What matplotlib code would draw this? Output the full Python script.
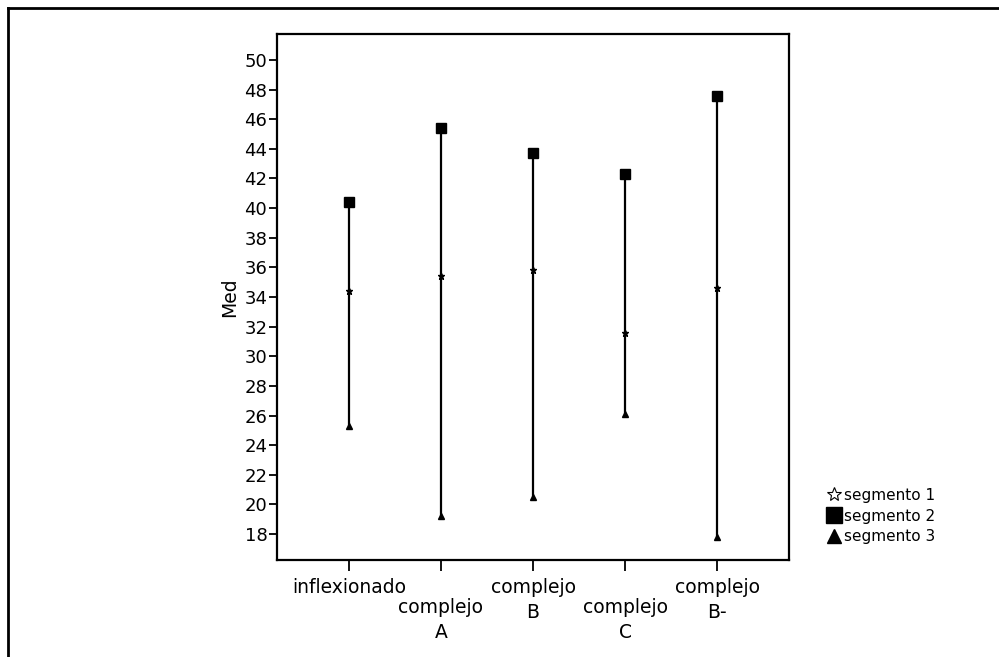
import matplotlib
matplotlib.use('Agg')
import matplotlib.pyplot as plt
from matplotlib.lines import Line2D

plt.rcParams['font.family'] = ['DejaVu Sans']

# DATA
categories = ['inflexionado', 'complejo\nA', 'complejo\nB', 'complejo\nC', 'complejo\nB-']
segmento_1 = [34.4, 35.4, 35.8, 31.6, 34.6]
segmento_2 = [40.4, 45.4, 43.7, 42.3, 47.6]
segmento_3 = [25.3, 19.2, 20.5, 26.1, 17.8]
y_ticks = list(range(18, 51, 2))

fig = plt.figure(figsize=(9.99, 6.57), dpi=100)
ax = fig.add_axes([0.2773, 0.1476, 0.5125, 0.8006])

x = list(range(len(categories)))

# high-low lines
ax.vlines(x, segmento_3, segmento_2, color='black', linewidth=1.6, zorder=2)
ax.plot(x, segmento_1, linestyle='none', marker='*', markersize=5, color='black', zorder=3)
ax.plot(x, segmento_2, linestyle='none', marker='s', markersize=6.5, color='black', zorder=3)
ax.plot(x, segmento_3, linestyle='none', marker='^', markersize=5, color='black', zorder=3)

ax.set_xlim(-0.78, 4.78)
ax.set_ylim(16.25, 51.75)
ax.set_yticks(y_ticks)
ax.set_yticklabels([str(t) for t in y_ticks], fontsize=13)
ax.set_xticks(x)
ax.set_xticklabels(categories, fontsize=13.5, linespacing=1.4)
for i, lab in enumerate(ax.get_xticklabels()):
    lab.set_verticalalignment('top')
    if i % 2 == 1:
        lab.set_y(-0.038)

ax.tick_params(axis='y', direction='out', length=6, width=1.3, pad=1, right=False)
ax.tick_params(axis='x', direction='out', length=8, width=1.3, pad=5, top=False)
for s in ax.spines.values():
    s.set_linewidth(1.6)

ax.set_ylabel('Med', fontsize=13.5, labelpad=4)

# legend
handles = [
    Line2D([], [], linestyle='none', marker='*', markersize=10, markerfacecolor='white',
           markeredgecolor='black', markeredgewidth=0.8),
    Line2D([], [], linestyle='none', marker='s', markersize=11, color='black'),
    Line2D([], [], linestyle='none', marker='^', markersize=10, color='black'),
]
fig.legend(handles, ['segmento 1', 'segmento 2', 'segmento 3'],
           loc='center left', bbox_to_anchor=(0.82, 0.2145), frameon=False,
           fontsize=11, handlelength=0.9, handletextpad=0.25, labelspacing=0.38,
           borderpad=0)

# outer frame (left and top edges visible)
fig.add_artist(Line2D([0.008, 0.008], [0, 0.988], color='black', linewidth=2,
                      transform=fig.transFigure))
fig.add_artist(Line2D([0.008, 1], [0.988, 0.988], color='black', linewidth=2,
                      transform=fig.transFigure))

fig.savefig('out.png', dpi=100)
